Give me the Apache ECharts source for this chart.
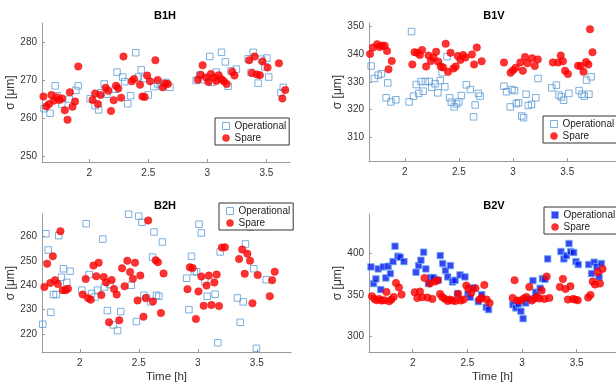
<!DOCTYPE html>
<html>
<head>
<meta charset="utf-8">
<script src="https://cdn.jsdelivr.net/npm/echarts@6/dist/echarts.min.js"></script>
<style>
  html, body { margin: 0; padding: 0; background: #fff; }
  #main { width: 616px; height: 386px; }
</style>
</head>
<body>
<div id="main"></div>
<script>
// tick labels
var timeTicks = [2, 2.5, 3, 3.5];
var b1hTicks = [250, 260, 270, 280];
var b1vTicks = [310, 320, 330, 340, 350];
var b2hTicks = [220, 230, 240, 250, 260];
var b2vTicks = [300, 350, 400];

// [time h, sigma um]
var b1hOperational = [
  [1.618, 262.5], [1.668, 261.3], [1.711, 268.5], [1.73, 265.9], [1.768, 263.7], [1.83, 265],
  [1.887, 267.3], [1.906, 268.5], [2.008, 265.1], [2.05, 263.3], [2.08, 262.2], [2.10, 266.7],
  [2.127, 269], [2.15, 266.3], [2.235, 272.1], [2.22, 267.6], [2.283, 270.8], [2.30, 269.6],
  [2.326, 263.8], [2.35, 265.9], [2.394, 277.2], [2.416, 270.8], [2.44, 272.7], [2.46, 270.4],
  [2.50, 266.1], [2.547, 268.3], [2.58, 269], [2.615, 268.3], [2.65, 269.4], [2.683, 268.1],
  [2.906, 269.9], [2.935, 271.3], [2.97, 270.1], [3.02, 276.2], [3.04, 269.4], [3.076, 272.1],
  [3.12, 277.3], [3.153, 274.8], [3.176, 268.4], [3.20, 272.4], [3.246, 272.9], [3.346, 275.6],
  [3.37, 272], [3.388, 277.3], [3.43, 269.2], [3.458, 275.5], [3.487, 273.5], [3.504, 275.8],
  [3.52, 270.8], [3.623, 266.7], [3.643, 268.1]
];
var b1hSpare = [
  [1.612, 265.7], [1.637, 263.1], [1.66, 263.7], [1.68, 266.1], [1.70, 264.6], [1.725, 265.5],
  [1.748, 264.8], [1.77, 265.2], [1.793, 262.1], [1.816, 259.6], [1.836, 266.8], [1.858, 263],
  [1.88, 264.4], [1.907, 273.6], [2.028, 264.8], [2.05, 266.5], [2.074, 263.7], [2.096, 266.1],
  [2.139, 268], [2.161, 267.2], [2.184, 261.9], [2.207, 264.7], [2.227, 268.5], [2.246, 267.8],
  [2.27, 265.4], [2.29, 276.2], [2.36, 269.7], [2.38, 270.3], [2.43, 268.8], [2.45, 265.7],
  [2.47, 265.6], [2.49, 271.2], [2.515, 269.7], [2.56, 275.2], [2.58, 270], [2.623, 268.1],
  [2.643, 269.1], [2.666, 269], [2.92, 270.1], [2.943, 271.4], [2.96, 273.9], [2.99, 270.7],
  [3.01, 269.5], [3.03, 271.6], [3.054, 270.7], [3.076, 269.8], [3.096, 271.3], [3.12, 270.2],
  [3.14, 269.7], [3.164, 269], [3.21, 272.2], [3.23, 271.2], [3.354, 275.2], [3.377, 271.9],
  [3.40, 276.2], [3.42, 271.5], [3.445, 271.3], [3.467, 274.9], [3.51, 273.3], [3.606, 274.4],
  [3.635, 265.2], [3.66, 267.4]
];

var b1vOperational = [
  [1.69, 335.7], [1.72, 331.2], [1.755, 332.4], [1.785, 332.9], [1.843, 329.6], [1.828, 324.2],
  [1.873, 322.7], [1.918, 323.5], [2.04, 322.7], [2.063, 348.2], [2.08, 324.8], [2.106, 329],
  [2.13, 325.8], [2.15, 330.1], [2.17, 326.6], [2.19, 330.1], [2.227, 330.1], [2.25, 328],
  [2.28, 329.3], [2.305, 326], [2.327, 330.4], [2.345, 333.3], [2.37, 328.2], [2.39, 339.1],
  [2.414, 324.2], [2.43, 322.6], [2.457, 320.9], [2.478, 322], [2.50, 322.7], [2.523, 325],
  [2.568, 328.9], [2.605, 327.2], [2.635, 317.3], [2.65, 321.6], [2.68, 325.8], [2.695, 324.8],
  [2.916, 328.4], [2.94, 326.4], [2.974, 320.9], [2.99, 327.2], [3.013, 326.8], [3.03, 322.1],
  [3.05, 322.4], [3.08, 317.6], [3.097, 317], [3.12, 325.5], [3.14, 321.4], [3.17, 321.8],
  [3.21, 324.2], [3.23, 331.2], [3.357, 327.8], [3.40, 328.8], [3.424, 325.2], [3.445, 324.5],
  [3.466, 323.3], [3.515, 325.8], [3.61, 326.8], [3.635, 325.5], [3.657, 324.8], [3.678, 330.6],
  [3.70, 325.5], [3.72, 331.8]
];
var b1vSpare = [
  [1.68, 340.1], [1.707, 342.4], [1.746, 343.6], [1.767, 342.6], [1.79, 343.1], [1.815, 343.1],
  [1.836, 341.2], [1.85, 334.5], [1.88, 337.5], [2.07, 336.3], [2.09, 340.7], [2.115, 340.5],
  [2.14, 339.7], [2.16, 341.5], [2.197, 335.5], [2.22, 339.5], [2.242, 337.5], [2.266, 338.8],
  [2.29, 340.9], [2.31, 337.3], [2.333, 335.5], [2.354, 335.2], [2.378, 343.8], [2.40, 333.6],
  [2.423, 340.5], [2.45, 334.8], [2.47, 335.5], [2.49, 339.3], [2.514, 337.9], [2.538, 339.7],
  [2.56, 338.8], [2.62, 339.9], [2.64, 336.3], [2.665, 342.4], [2.71, 337.4], [2.916, 337],
  [2.977, 333.3], [3.00, 334.2], [3.025, 335.1], [3.067, 337], [3.09, 334], [3.11, 339],
  [3.134, 336.7], [3.176, 338.5], [3.20, 335.7], [3.228, 338.1], [3.367, 337], [3.415, 337],
  [3.44, 339.5], [3.46, 337.4], [3.48, 334], [3.506, 332.8], [3.60, 335.8], [3.625, 335.7],
  [3.65, 333.6], [3.673, 337.2], [3.695, 336.3], [3.71, 349], [3.733, 340.7]
];

var b2hOperational = [
  [1.687, 224], [1.713, 261.2], [1.732, 254.5], [1.755, 228.9], [1.777, 236.2], [1.80, 236.2],
  [1.822, 260.4], [1.845, 243.3], [1.862, 246.8], [1.89, 241.2], [1.918, 245.8], [2.017, 238],
  [2.054, 265.3], [2.08, 244.4], [2.10, 236.6], [2.13, 235.2], [2.15, 238], [2.195, 259],
  [2.21, 239.3], [2.234, 229.6], [2.256, 240.3], [2.285, 223.7], [2.32, 221.4], [2.347, 229.2],
  [2.414, 269.2], [2.437, 240], [2.48, 225.1], [2.50, 268.4], [2.527, 265.9], [2.544, 235.9],
  [2.567, 234.8], [2.60, 233.2], [2.617, 251.6], [2.629, 261.9], [2.65, 235.9], [2.67, 235.5],
  [2.70, 257.8], [2.905, 242.9], [2.925, 230], [2.947, 251.9], [2.97, 245.6], [2.99, 245.6],
  [3.01, 265.1], [3.03, 261.5], [3.06, 241.6], [3.08, 235.5], [3.147, 236.3], [3.17, 216.4],
  [3.19, 253.7], [3.336, 234.8], [3.36, 224.8], [3.385, 233.2], [3.404, 257], [3.446, 264],
  [3.475, 246.8], [3.497, 214.1], [3.58, 242.3]
];
var b2hSpare = [
  [1.70, 239.3], [1.724, 248.9], [1.75, 241], [1.772, 251.9], [1.79, 242.1], [1.814, 240.5],
  [1.836, 262.2], [1.856, 238], [1.88, 238], [1.90, 238.6], [2.025, 236.2], [2.05, 242.6],
  [2.07, 234.8], [2.093, 234.1], [2.116, 248.1], [2.14, 243.7], [2.16, 249.3], [2.183, 236],
  [2.203, 243.4], [2.223, 241.2], [2.248, 224.8], [2.27, 242.2], [2.29, 238.5], [2.313, 236.2],
  [2.335, 225.6], [2.358, 247], [2.38, 239.6], [2.403, 250.1], [2.426, 245.5], [2.45, 242.7],
  [2.468, 249.3], [2.49, 233.8], [2.513, 244], [2.54, 227.1], [2.56, 234.8], [2.58, 266.6],
  [2.62, 233.4], [2.643, 250.3], [2.662, 249.5], [2.688, 228.6], [2.71, 244.9], [2.913, 238.4],
  [2.933, 247.4], [2.956, 247.1], [2.984, 226.2], [3.006, 237.5], [3.03, 243.6], [3.05, 231.6],
  [3.074, 239.9], [3.094, 244], [3.116, 231.9], [3.14, 241.2], [3.16, 244.4], [3.18, 231.5],
  [3.204, 255.5], [3.23, 255.6], [3.35, 250.8], [3.376, 254.7], [3.398, 244.7], [3.42, 253],
  [3.443, 250.1], [3.463, 232.6], [3.508, 244.2], [3.61, 235.5], [3.63, 242.1], [3.652, 245.6]
];

var b2vOperational = [
  [1.618, 383.6], [1.642, 363.6], [1.663, 369.2], [1.684, 381.2], [1.708, 356.4], [1.73, 383.6],
  [1.754, 370.4], [1.775, 384.4], [1.796, 375.6], [1.82, 390], [1.838, 408.4], [1.865, 396.4],
  [1.886, 395.2], [1.92, 390], [2.03, 377.2], [2.054, 385.2], [2.075, 391.6], [2.10, 401.2],
  [2.12, 381.2], [2.144, 363.6], [2.165, 370.8], [2.19, 370.8], [2.234, 367.6], [2.252, 397.2],
  [2.274, 387.6], [2.30, 379.2], [2.32, 371.6], [2.345, 385.2], [2.364, 365.6], [2.388, 367.6],
  [2.41, 351.6], [2.433, 374], [2.478, 371.6], [2.505, 351.2], [2.526, 347.2], [2.553, 358.4],
  [2.60, 342], [2.631, 350.4], [2.673, 335.2], [2.694, 332.4], [2.917, 338.4], [2.944, 334.4],
  [2.968, 339.2], [2.99, 330.4], [3.01, 321.6], [3.034, 340.4], [3.058, 345.2], [3.10, 367.2],
  [3.124, 353.2], [3.166, 358], [3.187, 369.6], [3.21, 368.8], [3.235, 393.2], [3.356, 402],
  [3.383, 393.2], [3.407, 397.2], [3.43, 411.6], [3.446, 402], [3.473, 400.8], [3.494, 390],
  [3.515, 386.4], [3.61, 386.4], [3.636, 375.6], [3.66, 389.2], [3.684, 383.6], [3.705, 371.6],
  [3.726, 387.6]
];
var b2vSpare = [
  [1.627, 348.4], [1.65, 345.2], [1.672, 343.6], [1.693, 345.2], [1.717, 343.2], [1.74, 343.6],
  [1.76, 353.6], [1.784, 342.4], [1.805, 344.4], [1.826, 347.6], [1.847, 364.4], [1.874, 358.8],
  [1.898, 350.4], [2.018, 353.2], [2.042, 346.4], [2.066, 354], [2.087, 347.2], [2.108, 370.4],
  [2.135, 346.8], [2.156, 363.6], [2.18, 345.2], [2.204, 366], [2.228, 367.6], [2.25, 351.2],
  [2.27, 347.6], [2.295, 345.2], [2.32, 342.8], [2.34, 344.4], [2.364, 343.2], [2.39, 342.8],
  [2.415, 351.2], [2.44, 343.2], [2.466, 344.4], [2.49, 361.2], [2.51, 357.6], [2.535, 352.4],
  [2.574, 358], [2.61, 344.4], [2.631, 346.4], [2.655, 362], [2.676, 344.4], [2.703, 340.4],
  [2.914, 346.4], [2.932, 367.6], [2.956, 343.2], [2.986, 343.2], [3.016, 345.6], [3.04, 347.6],
  [3.067, 359.6], [3.09, 343.2], [3.115, 345.6], [3.136, 347.6], [3.16, 345.6], [3.18, 355.2],
  [3.205, 345.2], [3.226, 372], [3.25, 346.4], [3.346, 359.6], [3.374, 369.2], [3.398, 357.2],
  [3.42, 344.4], [3.443, 360.4], [3.467, 345.2], [3.488, 344.4], [3.51, 343.6], [3.605, 346.8],
  [3.626, 350], [3.647, 366], [3.668, 362.4], [3.695, 377.2], [3.713, 363.6], [3.737, 381.2]
];

var FONT = 'Liberation Sans, Arial, sans-serif';
var AXIS_COLOR = '#9a9a9a';
var TEXT_COLOR = '#333';
var SQ_EDGE = '#5b9bd5';
var RED = '#ff0000';

var hollowSquare = { color: 'rgba(0,0,0,0)', borderColor: SQ_EDGE, borderWidth: 1 };
var filledSquare = { color: '#0a14f0', borderColor: '#6cb4f0', borderWidth: 1 };
var redDot = { color: RED, borderColor: '#e60000', borderWidth: 0.5 };

function xAx(grid, min, max, withName) {
  return {
    type: 'value', gridIndex: grid, min: min, max: max,
    name: withName ? 'Time [h]' : '', nameLocation: 'middle', nameGap: 19,
    nameTextStyle: { fontFamily: FONT, fontSize: 11.5, color: TEXT_COLOR },
    axisLine: { show: true, lineStyle: { color: AXIS_COLOR } },
    axisTick: { show: true, inside: true, length: 3, lineStyle: { color: AXIS_COLOR }, customValues: timeTicks },
    axisLabel: { fontFamily: FONT, fontSize: 10, color: TEXT_COLOR, margin: 6, customValues: timeTicks },
    splitLine: { show: false }
  };
}
function yAx(grid, min, max, ticks, gap) {
  return {
    type: 'value', gridIndex: grid, min: min, max: max,
    name: 'σ [μm]', nameLocation: 'middle', nameGap: gap,
    nameTextStyle: { fontFamily: FONT, fontSize: 12, color: TEXT_COLOR },
    axisLine: { show: true, lineStyle: { color: AXIS_COLOR } },
    axisTick: { show: true, inside: true, length: 3, lineStyle: { color: AXIS_COLOR }, customValues: ticks },
    axisLabel: { fontFamily: FONT, fontSize: 10, color: TEXT_COLOR, margin: 5, customValues: ticks },
    splitLine: { show: false }
  };
}
function legendAt(left, top, opStyle) {
  return {
    left: left, top: top, orient: 'vertical', selectedMode: false,
    backgroundColor: '#fff', borderColor: '#333', borderWidth: 1,
    padding: [2, 3, 1, 7], itemGap: 0, itemWidth: 7, itemHeight: 7,
    textStyle: { fontFamily: FONT, fontSize: 10, color: '#222', lineHeight: 12 },
    data: [
      { name: 'Operational', icon: 'rect', itemStyle: opStyle },
      { name: 'Spare', icon: 'circle', itemStyle: redDot }
    ]
  };
}
function sq(data, x, y, style, size) {
  return { name: 'Operational', type: 'scatter', xAxisIndex: x, yAxisIndex: y, symbol: 'rect',
    symbolSize: size, itemStyle: style, data: data, z: 2 };
}
function dot(data, x, y) {
  return { name: 'Spare', type: 'scatter', xAxisIndex: x, yAxisIndex: y, symbol: 'circle',
    symbolSize: 7.5, itemStyle: redDot, data: data, z: 3 };
}
function title(text, x, y) {
  return { type: 'text', x: x, y: y, z: 10,
    style: { text: text, align: 'center', verticalAlign: 'middle', textAlign: 'center', textVerticalAlign: 'middle',
      font: 'bold 11px ' + FONT, fill: '#000' } };
}

var chart = echarts.init(document.getElementById('main'), null, { renderer: 'canvas' });
chart.setOption({
  animation: false,
  backgroundColor: '#fff',
  grid: [
    { left: 42, top: 23, width: 248, height: 139 },
    { left: 369, top: 23, width: 250, height: 138 },
    { left: 42, top: 214, width: 249, height: 138 },
    { left: 369, top: 214, width: 250, height: 138 }
  ],
  xAxis: [
    xAx(0, 1.6, 3.7, false),
    xAx(1, 1.67, 3.95, false),
    xAx(2, 1.68, 3.79, true),
    xAx(3, 1.6, 3.86, true)
  ],
  yAxis: [
    yAx(0, 248.5, 285, b1hTicks, 22),
    yAx(1, 301.3, 351.3, b1vTicks, 20),
    yAx(2, 212.6, 269.3, b2hTicks, 22),
    yAx(3, 281.6, 447, b2vTicks, 20)
  ],
  legend: [
    legendAt(215, 118, hollowSquare),
    legendAt(543, 116, hollowSquare),
    legendAt(219, 203, hollowSquare),
    legendAt(544, 207, filledSquare)
  ],
  graphic: [
    title('B1H', 165, 16),
    title('B1V', 494, 16),
    title('B2H', 165, 206),
    title('B2V', 494, 206)
  ],
  series: [
    sq(b1hOperational, 0, 0, hollowSquare, 6.5), dot(b1hSpare, 0, 0),
    sq(b1vOperational, 1, 1, hollowSquare, 6.5), dot(b1vSpare, 1, 1),
    sq(b2hOperational, 2, 2, hollowSquare, 6.5), dot(b2hSpare, 2, 2),
    sq(b2vOperational, 3, 3, filledSquare, 6.5), dot(b2vSpare, 3, 3)
  ]
});
</script>
</body>
</html>
